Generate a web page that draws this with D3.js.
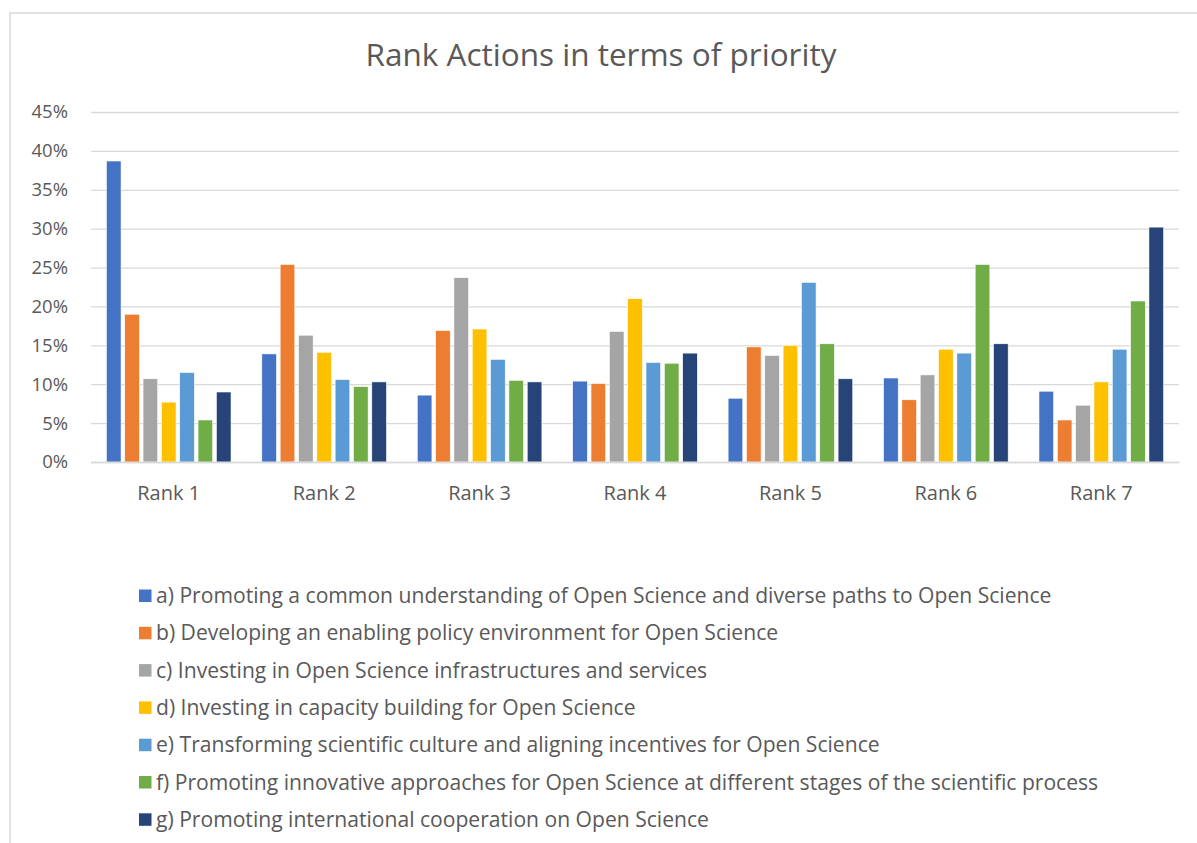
<!DOCTYPE html>
<html>
<head>
<meta charset="utf-8">
<script src="https://cdn.jsdelivr.net/npm/d3@7"></script>
<style>
	body { margin: 0; background: #fff; }
	svg text { font-family: "Open Sans", "Noto Sans", sans-serif; fill: #595959; }
</style>
</head>
<body>
<svg id="chart" width="1197" height="843"></svg>
<script>

const RANKS = ['Rank 1', 'Rank 2', 'Rank 3', 'Rank 4', 'Rank 5', 'Rank 6', 'Rank 7'];
const SERIES = [
	'a) Promoting a common understanding of Open Science and diverse paths to Open Science',
	'b) Developing an enabling policy environment for Open Science',
	'c) Investing in Open Science infrastructures and services',
	'd) Investing in capacity building for Open Science',
	'e) Transforming scientific culture and aligning incentives for Open Science',
	'f) Promoting innovative approaches for Open Science at different stages of the scientific process',
	'g) Promoting international cooperation on Open Science'
];
const COLORS = ['#4472C4', '#ED7D31', '#A5A5A5', '#FFC000', '#5B9BD5', '#70AD47', '#264478'];

// percent values, one array per series, in rank order
const A_VALUES = [38.7, 13.9, 8.6, 10.4, 8.2, 10.8, 9.1];
const B_VALUES = [19.0, 25.4, 16.9, 10.1, 14.8, 8.0, 5.4];
const C_VALUES = [10.7, 16.3, 23.7, 16.8, 13.7, 11.2, 7.3];
const D_VALUES = [7.7, 14.1, 17.1, 21.0, 15.0, 14.5, 10.3];
const E_VALUES = [11.5, 10.6, 13.2, 12.8, 23.1, 14.0, 14.5];
const F_VALUES = [5.4, 9.7, 10.5, 12.7, 15.2, 25.4, 20.7];
const G_VALUES = [9.0, 10.3, 10.3, 14.0, 10.7, 15.2, 30.2];
const Y_TICKS = [0, 5, 10, 15, 20, 25, 30, 35, 40, 45];

const VALUES = [A_VALUES, B_VALUES, C_VALUES, D_VALUES, E_VALUES, F_VALUES, G_VALUES];

let svg = d3.select('#chart');

// outer chart frame (right and bottom run off the picture)
svg.append('rect')
	.attr('x', 10).attr('y', 13)
	.attr('width', 1200).attr('height', 850)
	.attr('fill', 'none')
	.attr('stroke', '#d9d9d9')
	.attr('stroke-width', 1.5);

svg.append('text')
	.attr('x', 601).attr('y', 66)
	.attr('text-anchor', 'middle')
	.style('font-size', '31.5px')
	.text('Rank Actions in terms of priority');

const plotLeft = 91, plotRight = 1179, plotTop = 112, plotBottom = 462;

let x0 = d3.scaleBand().domain(RANKS).range([plotLeft, plotRight]);
let x1 = d3.scaleBand().domain(d3.range(SERIES.length))
	.range([0, x0.bandwidth()])
	.paddingInner(0.2).paddingOuter(0.84);
let y = d3.scaleLinear().domain([0, 45]).range([plotBottom, plotTop]);

// gridlines
let yAxis = d3.axisLeft(y).tickValues(Y_TICKS)
	.tickSize(-(plotRight - plotLeft)).tickFormat(d => d + '%').tickPadding(23);
let gy = svg.append('g').attr('transform', `translate(${plotLeft},0)`).call(yAxis);
gy.select('.domain').remove();
gy.selectAll('line').attr('stroke', '#d9d9d9').attr('stroke-width', 1.3);
gy.selectAll('text').style('font-size', '18.5px').attr('fill', '#595959');

// bars
let data = [];
RANKS.forEach((r, i) => {
	VALUES.forEach((vals, s) => data.push({ rank: r, s: s, v: vals[i] }));
});

svg.append('g').selectAll('rect')
	.data(data)
	.enter()
	.append('rect')
	.attr('x', d => x0(d.rank) + x1(d.s))
	.attr('width', x1.bandwidth())
	.attr('y', d => y(d.v))
	.attr('height', d => y(0) - y(d.v))
	.attr('fill', d => COLORS[d.s])
	.attr('stroke', '#fff')
	.attr('stroke-width', 0.6);

// x axis
let xAxis = d3.axisBottom(x0).tickSize(0).tickPadding(24);
let gx = svg.append('g').attr('transform', `translate(0,${plotBottom})`).call(xAxis);
gx.select('.domain').attr('stroke', '#d9d9d9').attr('stroke-width', 1.5);
gx.selectAll('text').style('font-size', '20px').attr('fill', '#595959');

// legend
let legend = svg.append('g').selectAll('g')
	.data(SERIES)
	.enter()
	.append('g')
	.attr('transform', (d, i) => `translate(139,${596 + i * 37.3})`);
legend.append('rect')
	.attr('x', 0).attr('y', -6.5)
	.attr('width', 12.5).attr('height', 12.5)
	.attr('fill', (d, i) => COLORS[i]);
legend.append('text')
	.attr('x', 17).attr('y', 7)
	.style('font-size', '21.1px')
	.text(d => d);

</script>
</body>
</html>
